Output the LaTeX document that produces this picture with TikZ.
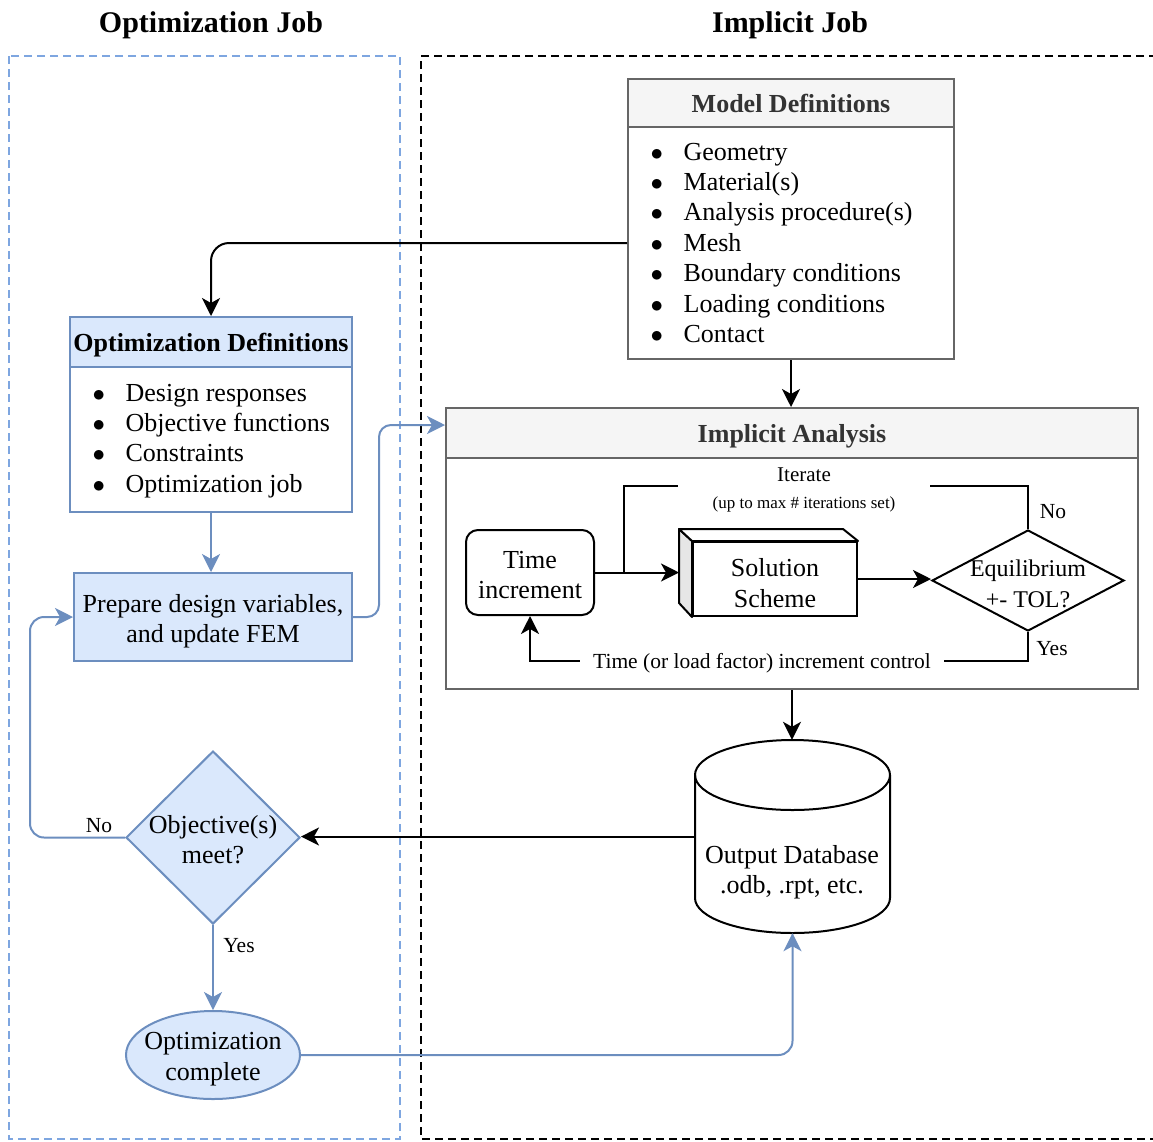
\documentclass[tikz,border=0pt]{standalone}
\usepackage{fontspec}
\setmainfont{Liberation Serif}
\usetikzlibrary{arrows.meta,shapes.geometric,calc}

\definecolor{bfill}{HTML}{DAE8FC}
\definecolor{bline}{HTML}{6C8EBF}
\definecolor{gfill}{HTML}{F5F5F5}
\definecolor{gline}{HTML}{666666}
\definecolor{gtext}{HTML}{333333}
\definecolor{frameblue}{HTML}{7EA6E0}
\definecolor{sidegray}{HTML}{E6E6E6}

\newcommand\fsz[2]{\fontsize{#1}{#2}\selectfont}
\newcommand\itemdot{$\bullet$}

\begin{document}
\begin{tikzpicture}[x=1pt,y=-1pt,
  txt/.style={font=\fsz{26}{30.5}, align=center, inner sep=0pt},
  small/.style={font=\fsz{21.5}{25}, inner sep=0pt},
  plain/.style={line width=2pt},
  conn/.style={line width=2pt, -{Stealth[length=18pt,width=18pt,inset=5pt]}},
  bconn/.style={conn, draw=bline},
  gbox/.style={draw=gline, line width=2pt, inner sep=0pt},
  bbox/.style={draw=bline, fill=bfill, line width=2pt, inner sep=0pt},
  headtxt/.style={font=\fsz{26}{30}\bfseries, text depth=0pt},
  lst/.style={anchor=base west, inner sep=0pt, font=\fsz{26}{30.4}},
  title/.style={font=\fsz{30}{36}\bfseries, inner sep=0pt, text depth=0pt}
]
\useasboundingbox (0,0) rectangle (1153,1141);

% swimlane frames
\draw[frameblue, line width=1.6pt, dash pattern=on 8pt off 5pt] (9,56) rectangle (400,1139);
\draw[black, line width=2pt, dash pattern=on 8pt off 5pt] (1170,56) -- (421,56) -- (421,1139) -- (1170,1139);

\node[title] (tleft) at (211,22) {Optimization Job};
\node[title] (tright) at (790,22) {Implicit Job};

% model definitions
\node[gbox, fill=gfill, minimum width=326pt, minimum height=48pt, headtxt, text=gtext] (mdhead) at (791,103) {Model Definitions};
\node[gbox, fill=white, minimum width=326pt, minimum height=232pt] (mdbody) at (791,243) {};
\node[lst] (mdlist) at (650.5,160) {\begin{tabular}[t]{@{}l@{\hspace{20.5pt}}l@{}}
\itemdot & Geometry\\
\itemdot & Material(s)\\
\itemdot & Analysis procedure(s)\\
\itemdot & Mesh\\
\itemdot & Boundary conditions\\
\itemdot & Loading conditions\\
\itemdot & Contact
\end{tabular}};

% optimization definitions
\node[bbox, minimum width=282pt, minimum height=50pt, headtxt] (odhead) at (211,342) {Optimization Definitions};
\node[bbox, fill=white, minimum width=282pt, minimum height=145pt] (odbody) at (211,439.5) {};
\node[lst] (odlist) at (92.5,401) {\begin{tabular}[t]{@{}l@{\hspace{20.5pt}}l@{}}
\itemdot & Design responses\\
\itemdot & Objective functions\\
\itemdot & Constraints\\
\itemdot & Optimization job
\end{tabular}};

\node[bbox, minimum width=278pt, minimum height=88pt] (prep) at (213,617) {};
\node[txt] (prept) at (213,621) {Prepare design variables,\\and update FEM};

% implicit analysis container
\node[gbox, fill=white, minimum width=692pt, minimum height=231pt] (iabody) at (792,573.5) {};
\node[gbox, fill=gfill, minimum width=692pt, minimum height=50pt, headtxt, text=gtext] (iahead) at (792,433) {Implicit Analysis};

\node[draw, line width=2pt, rounded corners=12pt, minimum width=128pt, minimum height=85pt] (ti) at (530,572.5) {};
\node[txt] (tit) at (530,575) {Time\\increment};

% solution scheme block with its side and top faces
\node[draw, line width=2pt, fill=white, minimum width=164pt, minimum height=74pt] (ss) at (775,579) {};
\filldraw[plain, fill=sidegray, line join=round] (ss.north west) -- ++(-13,-12) -- ++(0,74) -- (ss.south west) -- cycle;
\filldraw[plain, fill=white, line join=round] (ss.north west) -- ++(-13,-12) -- ++(164,0) -- (ss.north east) -- cycle;
\node[txt] (sst) at (775,583) {Solution\\Scheme};
\coordinate (ssl) at ([xshift=-13pt]ss.west);

\node[diamond, draw, line width=2pt, inner sep=0pt, minimum width=192pt, minimum height=101pt] (eq) at (1028,580.5) {};
\node[txt, font=\fsz{24}{31}] (eqt) at (1028,584) {Equilibrium\\+- TOL?};

% iteration loops
\coordinate (itcorner) at (624,486);
\draw[plain] (eq.north) |- (itcorner) -- (itcorner |- ti.east);
\node[fill=white, inner xsep=0pt, inner ysep=1pt, minimum width=252pt, font=\fsz{21}{27}] (itlab) at (804,489.5)
  {\begin{tabular}{@{}c@{}}Iterate\\{\fsz{17}{20}(up to max \# iterations set)}\end{tabular}};

\coordinate (ctcorner) at (530,661);
\draw[conn] (eq.south) |- (ctcorner) -- (ti.south);
\node[small, fill=white, inner xsep=13.5pt, inner ysep=2pt] (ctlab) at (762,663.5) {Time (or load factor) increment control};

\node[small] (eqno) at (1053,512) {No};
\node[small] (eqyes) at (1052,649) {Yes};

\draw[conn] (ti.east) -- (ti.east -| ssl);
\draw[conn] (ss.east) -- (ss.east -| eq.west);

% output database cylinder
\node[inner sep=0pt, minimum width=195pt, minimum height=193pt] (db) at (792.5,836.5) {};
\draw[plain, fill=white] (695,775) -- (695,898)
  arc[start angle=180, end angle=360, x radius=97.5pt, y radius=35pt] -- (890,775)
  arc[start angle=0, end angle=180, x radius=97.5pt, y radius=35pt] -- cycle;
\draw[plain] (695,775) arc[start angle=180, end angle=360, x radius=97.5pt, y radius=35pt];
\node[txt] (dbt) at (792,872) {Output Database\\.odb, .rpt, etc.};

% objective check and completion
\node[diamond, bbox, minimum width=174pt, minimum height=173pt] (obj) at (213,837.5) {};
\node[txt] (objt) at (213,839.5) {Objective(s)\\meet?};
\node[ellipse, bbox, minimum width=174pt, minimum height=88pt] (oc) at (213,1055) {};
\node[txt] (oct) at (213,1059) {Optimization\\complete};

\node[small] (objno) at (99,826) {No};
\node[small] (objyes) at (239,946) {Yes};

% connectors
\draw[conn, rounded corners=18pt] (mdbody.west) -| (odhead.north);
\draw[conn] (mdbody.south) -- (mdbody.south |- iahead.north);
\draw[bconn] (odbody.south) -- (odbody.south |- prep.north);
\draw[bconn, rounded corners=12pt] (prep.east) -- ++(26,0) |- ([yshift=8pt]iahead.west);
\draw[conn] (iabody.south) -- (iabody.south |- db.north);
\draw[conn] (db.west) -- (db.west -| obj.east);
\draw[bconn, rounded corners=14pt] (obj.west) -- ++(-95,0) |- (prep.west);
\draw[bconn] (obj.south) -- (oc.north);
\draw[bconn, rounded corners=14pt] (oc.east) -| (db.south);
\end{tikzpicture}
\end{document}
